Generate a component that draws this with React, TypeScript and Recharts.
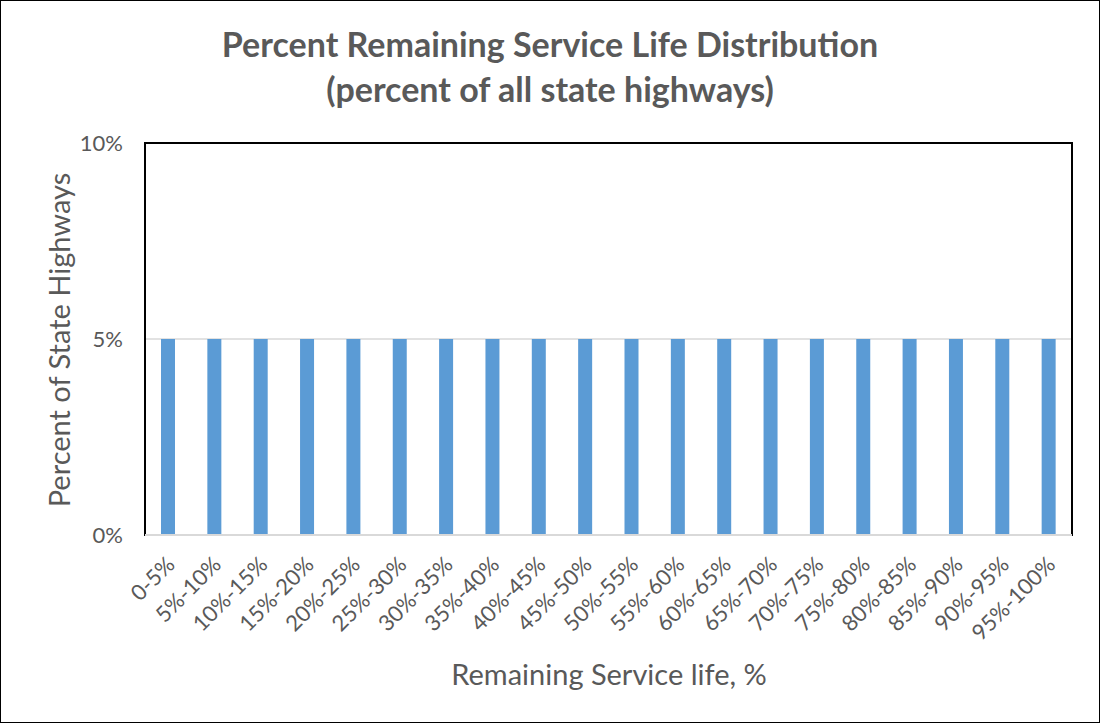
import { BarChart, Bar, XAxis, YAxis, CartesianGrid, ReferenceArea, ReferenceLine } from 'recharts'

const categories = [
  '0-5%', '5%-10%', '10%-15%', '15%-20%', '20%-25%', '25%-30%', '30%-35%', '35%-40%', '40%-45%', '45%-50%',
  '50%-55%', '55%-60%', '60%-65%', '65%-70%', '70%-75%', '75%-80%', '80%-85%', '85%-90%', '90%-95%', '95%-100%',
]
const shares = [5, 5, 5, 5, 5, 5, 5, 5, 5, 5, 5, 5, 5, 5, 5, 5, 5, 5, 5, 5]
const yTicks = [0, 5, 10]

const FONT = 'Lato, "Open Sans", sans-serif'
const GREY = '#595959'

const rows = categories.map((c, i) => ({ range: c, share: shares[i] }))

function XTick({ x, y, payload }: any) {
  const ax = x + 8
  const ay = y + 23
  return (
    <text x={ax} y={ay} textAnchor="end" transform={`rotate(-45, ${ax}, ${ay})`} fontSize={22} fill={GREY} fontFamily={FONT}>
      {payload?.value}
    </text>
  )
}

export default function App() {
  return (
    <div style={{ position: 'relative', width: 1100, height: 723, boxSizing: 'border-box', border: '1px solid #000', background: '#fff', fontFamily: FONT }}>
      <style>{'body{margin:0}'}</style>
      <div style={{ position: 'absolute', left: 0, right: 0, top: 20, textAlign: 'center', fontSize: 34, fontWeight: 700, color: GREY, lineHeight: '45px' }}>
        Percent Remaining Service Life Distribution
        <br />
        (percent of all state highways)
      </div>
      <div style={{ position: 'absolute', left: 57, top: 339, transform: 'translate(-50%, -50%) rotate(-90deg)', whiteSpace: 'nowrap', fontSize: 29, color: GREY }}>
        Percent of State Highways
      </div>
      <div style={{ position: 'absolute', left: 608, top: 672, transform: 'translate(-50%, -50%)', whiteSpace: 'nowrap', fontSize: 29, color: GREY }}>
        Remaining Service life, %
      </div>
      <div style={{ position: 'absolute', left: -1, top: -1 }}>
        <BarChart width={1100} height={723} data={rows} margin={{ top: 143, right: 28, left: 75, bottom: 48 }}>
          <CartesianGrid vertical={false} stroke="#d9d9d9" strokeWidth={1.5} />
          <XAxis dataKey="range" interval={0} height={140} tickLine={false} axisLine={false} tick={<XTick />} />
          <YAxis
            domain={[0, 10]}
            ticks={yTicks}
            width={70}
            tickLine={false}
            axisLine={false}
            tickFormatter={(v: any) => `${v}%`}
            tick={{ fontSize: 22, fill: GREY, fontFamily: FONT, dx: -14 }}
          />
          <ReferenceArea y1={0} y2={10} fill="none" stroke="#000" strokeWidth={2} ifOverflow="visible" />
          <ReferenceLine y={0} stroke="#d9d9d9" strokeWidth={2} />
          <Bar dataKey="share" fill="#5b9bd5" barSize={14} isAnimationActive={false} />
        </BarChart>
      </div>
    </div>
  )
}
